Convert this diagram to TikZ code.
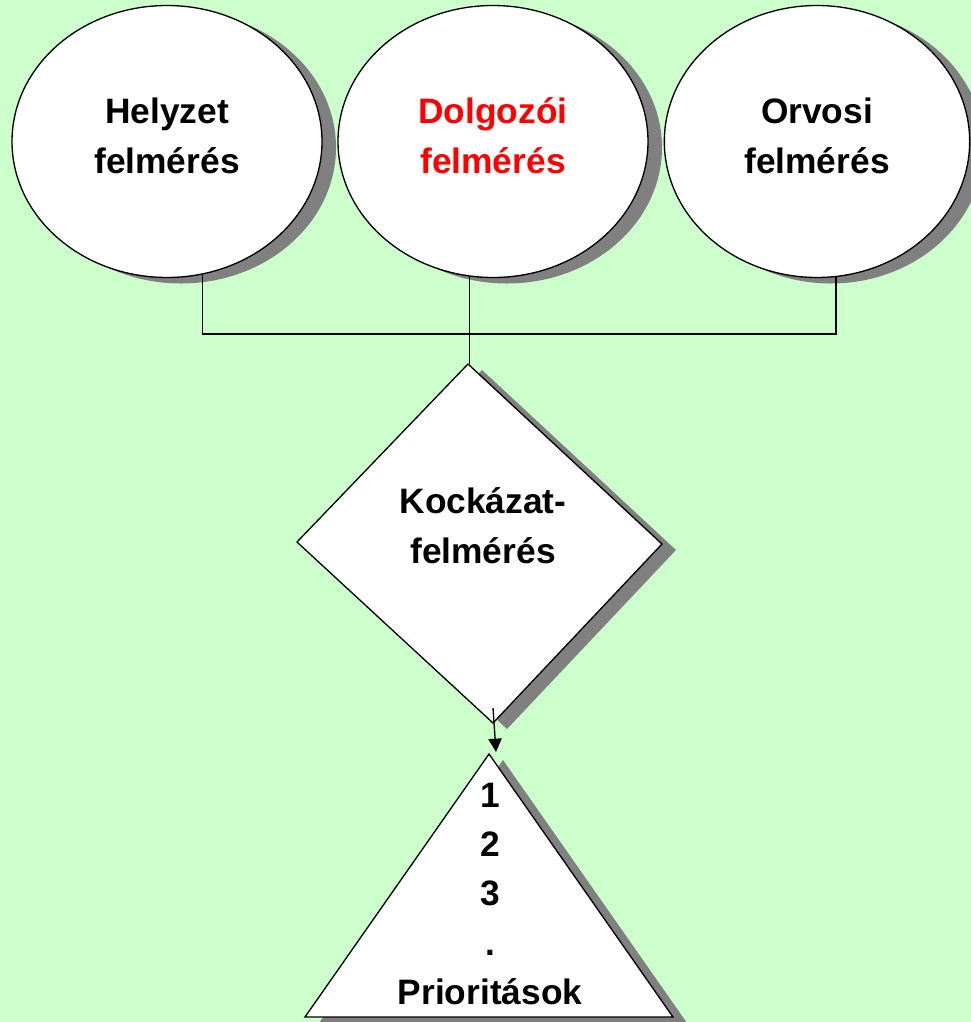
\documentclass[tikz,border=0pt]{standalone}
\usepackage{fontspec}
\setmainfont{Liberation Sans}
\usetikzlibrary{shapes.geometric}
\usetikzlibrary{shadows}
\usetikzlibrary{arrows.meta}
\usetikzlibrary{calc}
\definecolor{hatter}{HTML}{CCFFCC}
\definecolor{arnyek}{HTML}{808080}
\newcommand{\nagybetu}{\bfseries\fontsize{26.5}{37.5}\selectfont}

\begin{document}
\begin{tikzpicture}[x=0.75pt, y=-0.75pt,
  arnyekos/.style={fill=white, draw=black, line width=1pt,
    general shadow={fill=arnyek, shadow xshift=10.5pt, shadow yshift=-4.5pt}},
  felmeres/.style={ellipse, arnyekos, minimum width=232.5pt, minimum height=204pt,
    inner sep=0pt, align=center, font=\nagybetu, text depth=9pt},
  szoveg/.style={align=center, font=\nagybetu, inner sep=0pt},
  vonal/.style={line width=1pt},
  nyil/.style={line width=1pt, -{Triangle[length=10pt,width=10pt]}}]
\fill[hatter] (0,0) rectangle (971,1022);
\useasboundingbox (0,0) rectangle (971,1022);

\node[felmeres] (helyzet) at (167,141.5) {Helyzet\\felmérés};
\node[felmeres, text=red] (dolgozoi) at (493,141.5) {Dolgozói\\felmérés};
\node[felmeres, minimum width=229pt] (orvosi) at (817,141.5) {Orvosi\\felmérés};

% rombusz es haromszog
\coordinate (kock-n) at (468,364);
\coordinate (kock-e) at (662,544);
\coordinate (kock-s) at (493,723);
\coordinate (kock-w) at (297,542);
\path[arnyekos] (kock-n) -- (kock-e) -- (kock-s) -- (kock-w) -- cycle;
\node[szoveg] (kockazat) at (483,526) {Kockázat-\\felmérés};

\coordinate (prio-n) at (489,754);
\coordinate (prio-e) at (673,1017);
\coordinate (prio-w) at (305,1017);
\path[arnyekos] (prio-n) -- (prio-e) -- (prio-w) -- cycle;
\node[szoveg, font=\bfseries\fontsize{26.5}{37}\selectfont] (prioritasok) at (490,894) {1\\2\\3\\.\\Prioritások};

% osszekotes
\coordinate (bus) at (469,334);
\draw[vonal] (helyzet.-75) |- (bus) -| (orvosi.-82);
\draw[vonal] (dolgozoi.-100) -- (dolgozoi.-100 |- kock-n);
\draw[nyil] ($(kock-s)+(0,-15)$) -- ($(prio-n)+(7,-2)$);

\end{tikzpicture}
\end{document}
